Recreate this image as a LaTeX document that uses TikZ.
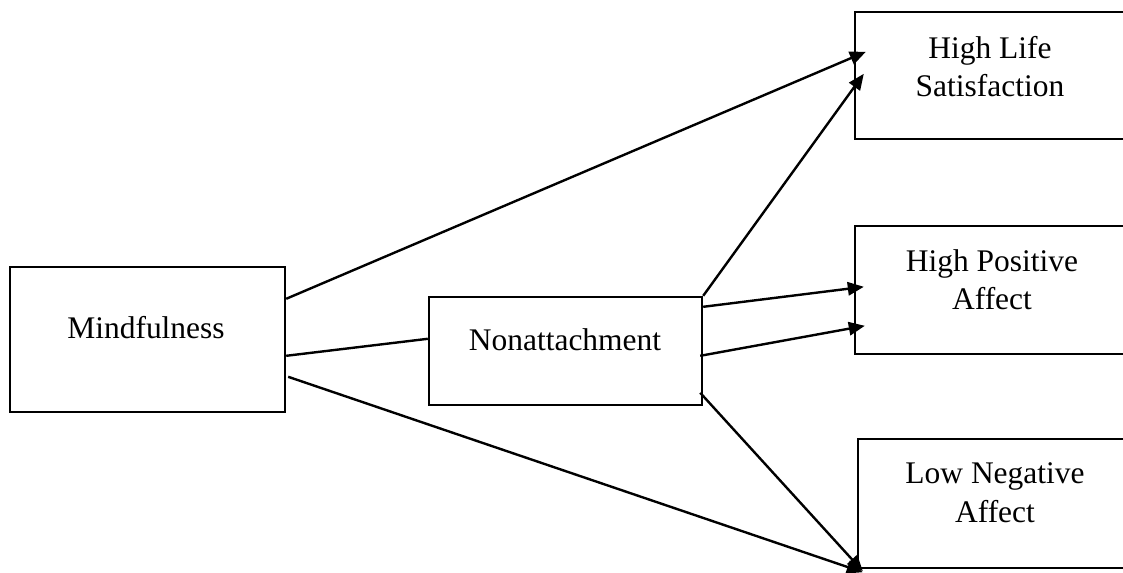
\documentclass[tikz,border=0pt]{standalone}
\usepackage{fontspec}
\setmainfont{Liberation Serif}
\usetikzlibrary{arrows.meta,calc}
\tikzset{
  box/.style={draw, line width=1.8pt, rectangle, inner sep=0pt},
  lbl/.style={font=\fontsize{23.6}{29}\selectfont, align=center, inner sep=0pt, anchor=base},
  conn/.style={line width=1.8pt},
  arr/.style={conn, -{Triangle[length=12pt,width=10pt]}},
}
\begin{document}
\begin{tikzpicture}[x=0.75pt,y=-0.75pt]
\useasboundingbox (0,0) rectangle (1123,573);
\clip (0,0) rectangle (1123,573);
% boxes
\node[box, minimum width=275*0.75pt, minimum height=145*0.75pt] (mind) at (147.5,339.5) {};
\node[box, minimum width=273*0.75pt, minimum height=108*0.75pt] (non) at (565.5,351) {};
\node[box, minimum width=280*0.75pt, minimum height=127*0.75pt] (hls) at (995,75.5) {};
\node[box, minimum width=280*0.75pt, minimum height=128*0.75pt] (hpa) at (995,290) {};
\node[box, minimum width=277*0.75pt, minimum height=129*0.75pt] (lna) at (996.5,503.5) {};
% labels
\node[lbl] (tmind) at (146,339) {Mindfulness};
\node[lbl] (tnon) at (565,350) {Nonattachment};
\node[lbl] (thls) at (990,97) {High Life\\Satisfaction};
\node[lbl] (thpa) at (992,310) {High Positive\\Affect};
\node[lbl] (tlna) at (995,522) {Low Negative\\Affect};
% connectors
\draw[arr] ($(mind.north east)+(0,33)$) -- ($(hls.north west)+(12,41)$);
\draw[conn] ($(mind.north east)+(0,90)$) -- ($(non.north west)+(0,43)$);
\draw[arr] ($(mind.north east)+(2,111)$) -- ($(lna.south west)+(6,3)$);
\draw[arr] (non.north east) -- ($(hls.north west)+(10,63)$);
\draw[arr] ($(non.north east)+(0,11)$) -- ($(hpa.north west)+(10,62)$);
\draw[arr] ($(non.north east)+(-3,60)$) -- ($(hpa.north west)+(11,101)$);
\draw[arr] ($(non.north east)+(-3,97)$) -- ($(lna.south west)+(6,2)$);
\end{tikzpicture}
\end{document}
